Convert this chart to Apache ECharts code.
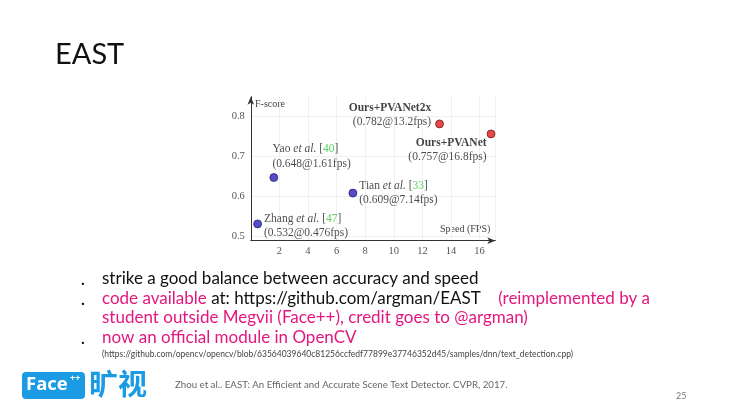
<!DOCTYPE html>
<html>
<head>
<meta charset="utf-8">
<title>EAST</title>
<script src="https://cdn.jsdelivr.net/npm/echarts@6/dist/echarts.min.js"></script>
<style>
  html, body { margin: 0; padding: 0; background: #fff; }
  #main { width: 740px; height: 414px; }
</style>
</head>
<body>
<div id="main"></div>
<script>
// data
const methodNames = ['Zhang', 'Yao', 'Tian', 'Ours+PVANet2x', 'Ours+PVANet'];
const refNums = ['47', '40', '33', '', ''];
const speedFps = [0.476, 1.61, 7.14, 13.2, 16.8];
const fScore = [0.532, 0.648, 0.609, 0.782, 0.757];
const isOurs = [false, false, false, true, true];
const yTickValues = [0.5, 0.6, 0.7, 0.8];

const PINK = '#e3177f';
const BODY_FONT = 'Lato';

// label placement per point (style only)
const labelLayout = [
  { position: 'right', distance: 2, offset: [0, 2], align: 'left' },
  { position: [3, -31], align: 'left', verticalAlign: 'top' },
  { position: 'right', distance: 2, offset: [0, 0], align: 'left' },
  { position: 'left', distance: 4, offset: [0, -9], align: 'right' },
  { position: [0, 6], align: 'right', verticalAlign: 'top' }
];

function labelText(i) {
  const val = '{n|(' + fScore[i] + '@' + speedFps[i] + 'fps)}';
  if (isOurs[i]) {
    return '{b|' + methodNames[i] + '}\n' + val;
  }
  return '{n|' + methodNames[i] + ' }{i|et al.}{n| [}{g|' + refNums[i] + '}{n|]}\n' + val;
}

const richStyle = {
  n: { fontFamily: 'Liberation Serif', fontSize: 11.5, color: '#222', lineHeight: 14.5 },
  i: { fontFamily: 'Liberation Serif', fontSize: 11.5, fontStyle: 'italic', color: '#222', lineHeight: 14.5 },
  g: { fontFamily: 'Liberation Serif', fontSize: 11.5, color: '#35c635', lineHeight: 14.5 },
  b: { fontFamily: 'Liberation Serif', fontSize: 11.5, fontWeight: 'bold', color: '#111', lineHeight: 14.5 }
};

function buildPoints(ours) {
  const pts = [];
  speedFps.forEach((x, i) => {
    if (isOurs[i] !== ours) return;
    const lay = labelLayout[i];
    pts.push({
      name: methodNames[i],
      value: [x, fScore[i]],
      label: {
        show: true,
        position: lay.position,
        distance: lay.distance,
        offset: lay.offset,
        align: lay.align,
        verticalAlign: lay.verticalAlign,
        formatter: labelText(i),
        rich: richStyle
      }
    });
  });
  return pts;
}

const chart = echarts.init(document.getElementById('main'), null, { renderer: 'canvas' });

const axisColor = '#333';

chart.setOption({
  backgroundColor: '#fff',
  animation: false,
  grid: {
    left: 250.8,
    top: 96.7,
    width: 244.5,
    height: 144
  },
  xAxis: {
    type: 'value',
    min: 0,
    max: 17.1,
    interval: 2,
    axisLine: {
      show: true,
      symbol: ['none', 'arrow'],
      symbolSize: [5, 8],
      lineStyle: { color: axisColor, width: 1 }
    },
    axisTick: { show: false },
    axisLabel: {
      showMinLabel: false,
      showMaxLabel: false,
      margin: 5,
      fontFamily: 'Liberation Serif',
      fontSize: 10.5,
      color: '#555'
    },
    splitLine: { show: true, lineStyle: { color: '#f0f0f0', width: 1 } }
  },
  yAxis: {
    type: 'value',
    min: 0.49,
    max: 0.85,
    axisLine: {
      show: true,
      symbol: ['none', 'arrow'],
      symbolSize: [5, 8],
      lineStyle: { color: axisColor, width: 1 }
    },
    axisTick: { show: false, customValues: yTickValues },
    axisLabel: {
      customValues: yTickValues,
      margin: 6,
      fontFamily: 'Liberation Serif',
      fontSize: 10.5,
      color: '#555',
      formatter: v => v.toFixed(1)
    },
    splitLine: { show: true, lineStyle: { color: '#f0f0f0', width: 1 } }
  },
  series: [
    {
      name: 'others',
      type: 'scatter',
      symbolSize: 8,
      itemStyle: { color: '#2a20b8', borderColor: '#15105a', borderWidth: 0.8 },
      data: buildPoints(false)
    },
    {
      name: 'ours',
      type: 'scatter',
      symbolSize: 8,
      itemStyle: { color: '#e01a1a', borderColor: '#5a0a0a', borderWidth: 0.8 },
      data: buildPoints(true)
    }
  ],
  graphic: [
    // axis names
    { type: 'text', left: 255, top: 99, style: { text: 'F-score', fontFamily: 'Liberation Serif', fontSize: 10, fill: '#444' } },
    { type: 'text', left: 440, top: 224, style: { text: 'Speed (FPS)', fontFamily: 'Liberation Serif', fontSize: 10, fill: '#444' } },
    // slide title
    { type: 'text', left: 55, top: 40, style: { text: 'EAST', fontFamily: BODY_FONT, fontSize: 29, fill: '#111' } },
    // bullets
    { type: 'text', left: 81, top: 272, style: { text: '.', fontFamily: BODY_FONT, fontSize: 16, fontWeight: 'bold', fill: '#111' } },
    { type: 'text', left: 81, top: 292, style: { text: '.', fontFamily: BODY_FONT, fontSize: 16, fontWeight: 'bold', fill: '#111' } },
    { type: 'text', left: 81, top: 331, style: { text: '.', fontFamily: BODY_FONT, fontSize: 16, fontWeight: 'bold', fill: '#111' } },
    {
      type: 'text', left: 102, top: 270,
      style: { text: 'strike a good balance between accuracy and speed', fontFamily: BODY_FONT, fontSize: 17, fill: '#111' }
    },
    {
      type: 'text', left: 102, top: 290,
      style: {
        text: '{p|code available}{k| at: https://github.com/argman/EAST}{p|    (reimplemented by a}',
        rich: {
          p: { fontFamily: BODY_FONT, fontSize: 17, fill: PINK },
          k: { fontFamily: BODY_FONT, fontSize: 17, fill: '#111' }
        }
      }
    },
    {
      type: 'text', left: 102, top: 309,
      style: { text: 'student outside Megvii (Face++), credit goes to @argman)', fontFamily: BODY_FONT, fontSize: 17, fill: PINK }
    },
    {
      type: 'text', left: 102, top: 329,
      style: { text: 'now an official module in OpenCV', fontFamily: BODY_FONT, fontSize: 17, fill: PINK }
    },
    {
      type: 'text', left: 102, top: 350,
      style: {
        text: '(https://github.com/opencv/opencv/blob/63564039640c81256ccfedf77899e37746352d45/samples/dnn/text_detection.cpp)',
        fontFamily: BODY_FONT, fontSize: 8.5, fill: '#444'
      }
    },
    // logo
    { type: 'rect', left: 22, top: 372, shape: { width: 63, height: 27, r: 4 }, style: { fill: '#1b9be3' } },
    { type: 'text', left: 26, top: 375, style: { text: 'Face', fontFamily: 'Open Sans', fontSize: 18.5, fontWeight: 'bold', fill: '#fff' } },
    { type: 'text', left: 70, top: 374, style: { text: '++', fontFamily: 'Open Sans', fontSize: 9, fontWeight: 'bold', fill: '#fff' } },
    { type: 'text', left: 89, top: 369, style: { text: '旷视', fontFamily: 'Noto Sans CJK SC', fontSize: 29, fontWeight: 'bold', fill: '#1b9be3' } },
    // footer
    {
      type: 'text', left: 175, top: 380,
      style: { text: 'Zhou et al.. EAST: An Efficient and Accurate Scene Text Detector. CVPR, 2017.', fontFamily: BODY_FONT, fontSize: 9.7, fill: '#666' }
    },
    { type: 'text', left: 676, top: 392, style: { text: '25', fontFamily: BODY_FONT, fontSize: 9, fill: '#777' } }
  ]
});
</script>
</body>
</html>
